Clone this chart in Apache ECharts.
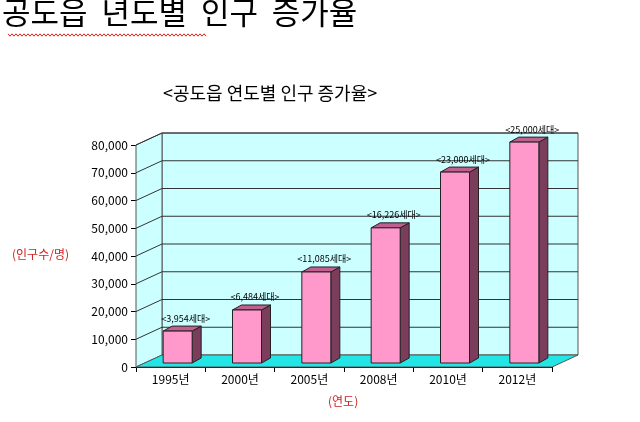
<!DOCTYPE html>
<html><head><meta charset="utf-8">
<script src="https://cdn.jsdelivr.net/npm/echarts@6/dist/echarts.min.js"></script>
<style>html,body{margin:0;padding:0;background:#fff}#c{width:640px;height:422px}</style>
</head><body><div id="c"></div>
<script>
const categories = ['1995년','2000년','2005년','2008년','2010년','2012년'];
const values = [11500, 19100, 32800, 48700, 68800, 79600];
const households = ['<3,954세대>','<6,484세대>','<11,085세대>','<16,226세대>','<23,000세대>','<25,000세대>'];
const yTicks = [0,10000,20000,30000,40000,50000,60000,70000,80000];

const DX = 26, DY = -12;
const chart = echarts.init(document.getElementById('c'));
const F = '"Noto Sans CJK KR", sans-serif';

function wallItem(params, api) {
  const cs = params.coordSys;
  const x0 = cs.x, x1 = cs.x + cs.width, y0 = cs.y, y1 = cs.y + cs.height;
  const ch = [];
  ch.push({type:'polygon', shape:{points:[[x0+DX,y0+DY],[x1+DX,y0+DY],[x1+DX,y1+DY],[x0+DX,y1+DY]]}, style:{fill:'#ccffff', stroke:'#555', lineWidth:1}});
  ch.push({type:'polygon', shape:{points:[[x0,y0],[x0+DX,y0+DY],[x0+DX,y1+DY],[x0,y1]]}, style:{fill:'#ccffff', stroke:'#555', lineWidth:1}});
  yTicks.forEach(v => {
    if (v === 0) return;
    const y = api.coord([0, v])[1];
    ch.push({type:'polyline', shape:{points:[[x0,y],[x0+DX,y+DY],[x1+DX,y+DY]]}, style:{stroke:'#333', lineWidth:1, fill:null}});
  });
  ch.push({type:'polygon', shape:{points:[[x0,y1],[x1,y1],[x1+DX,y1+DY],[x0+DX,y1+DY]]}, style:{fill:'#22e6e6', stroke:'#555', lineWidth:1}});
  return {type:'group', children:ch};
}

function barItem(params, api) {
  const base = api.coord([api.value(0), 0]);
  const top = api.coord([api.value(0), api.value(1)]);
  const w = 29, d = 9, e = -5;
  const ox = 7, oy = -4;
  const xl = base[0] - w/2 + ox, xr = xl + w;
  const yb = base[1] + oy, yt = top[1] + oy;
  return {type:'group', children:[
    {type:'polygon', shape:{points:[[xr,yt],[xr+d,yt+e],[xr+d,yb+e],[xr,yb]]}, style:{fill:'#7a3d5c', stroke:'#222', lineWidth:1}},
    {type:'polygon', shape:{points:[[xl,yt],[xl+d,yt+e],[xr+d,yt+e],[xr,yt]]}, style:{fill:'#c06090', stroke:'#222', lineWidth:1}},
    {type:'rect', shape:{x:xl, y:yt, width:w, height:yb-yt}, style:{fill:'#ff99cc', stroke:'#222', lineWidth:1}},
    {type:'text', style:{text:households[params.dataIndex], x:(xl+xr)/2+8, y:yt-13, align:'center', verticalAlign:'middle', font:'9px '+F, fill:'#000'}}
  ]};
}

const wave = [];
for (let i = 0, x = 8; x <= 206; x += 2, i++) wave.push([x, 35 + (i % 2 ? 1.2 : -1.2)]);

chart.setOption({
  animation:false,
  graphic:[
    {type:'text', left:2, top:-3, style:{text:'공도읍  년도별  인구  증가율', font:'31px '+F, fill:'#000'}},
    {type:'polyline', shape:{points:wave}, style:{stroke:'#e02020', lineWidth:1, fill:null}},
    {type:'text', left:163, top:84, style:{text:'<공도읍 연도별 인구 증가율>', font:'18px '+F, fill:'#000'}},
    {type:'text', left:12, top:248, style:{text:'(인구수/명)', font:'12px '+F, fill:'#d02020'}},
    {type:'text', left:328, top:395, style:{text:'(연도)', font:'12px '+F, fill:'#d02020'}}
  ],
  grid:{left:136, right:88, top:145, bottom:55},
  xAxis:{type:'category', data:categories, axisLine:{lineStyle:{color:'#000'}}, axisTick:{show:true, lineStyle:{color:'#000'}},
    axisLabel:{color:'#000', fontSize:12, fontFamily:F, margin:6}},
  yAxis:{type:'value', min:0, max:80000, interval:10000, axisLine:{show:true, lineStyle:{color:'#000'}}, axisTick:{show:true, lineStyle:{color:'#000'}},
    splitLine:{show:false}, axisLabel:{color:'#000', fontSize:12, fontFamily:F, formatter:v=>v===0?'0':v.toLocaleString('en-US',{minimumFractionDigits:3}).replace(/\.000$/,'')}},
  series:[
    {type:'custom', renderItem:wallItem, data:[[0,0]], z:1, silent:true},
    {type:'custom', renderItem:barItem, data:categories.map((c,i)=>[i, values[i]]), z:3}
  ]
});
</script></body></html>
